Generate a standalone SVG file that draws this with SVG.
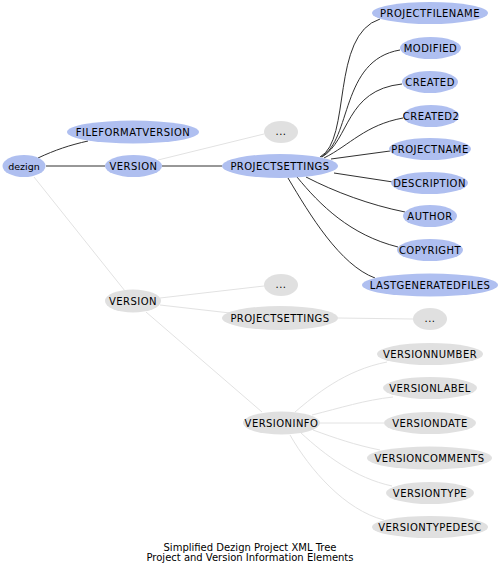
<svg xmlns="http://www.w3.org/2000/svg" width="500" height="564" viewBox="0 0 500 564">
<style>
.b ellipse{fill:#afbff0;stroke:none}
.g ellipse{fill:#e0e0e0;stroke:none}
text{font-family:"DejaVu Sans","Liberation Sans",sans-serif;font-size:10px;letter-spacing:0.45px;fill:#000;text-anchor:middle}
.d{fill:none;stroke:#303030;stroke-width:1}
.l{fill:none;stroke:#e2e2e2;stroke-width:1}
text.t{font-size:10px;letter-spacing:0}
text.s{font-size:9.5px;letter-spacing:0}
</style>
<rect width="500" height="564" fill="#fff"/>
<g id="connectors">
<path class="d" d="M38,158 C55,150 70,145 88,141"/>
<path class="d" d="M46,166 L105,166"/>
<path class="l" d="M34,177 L125,291"/>
<path class="l" d="M158,160 L264,134"/>
<path class="d" d="M162,166 L222,166"/>
<path class="d" d="M320,157 C352,140 330,35 380,19"/>
<path class="d" d="M321,157 C352,140 340,60 400,50"/>
<path class="d" d="M322,157 C350,140 345,90 402,84"/>
<path class="d" d="M324,158 C350,145 365,125 403,118"/>
<path class="d" d="M331,159 L390,151"/>
<path class="d" d="M334,173 L393,182"/>
<path class="d" d="M306,177 C335,192 370,205 405,212"/>
<path class="d" d="M297,177 C320,205 350,235 398,247"/>
<path class="d" d="M288,178 C310,215 340,265 375,278"/>
<path class="l" d="M160,298 L264,286"/>
<path class="l" d="M160,305 L230,313"/>
<path class="l" d="M146,312 L262,412"/>
<path class="l" d="M338,318 L413,319"/>
<path class="l" d="M295,412 C315,395 345,370 387,362"/>
<path class="l" d="M312,415 C340,408 365,400 393,397"/>
<path class="l" d="M320,423 L384,423"/>
<path class="l" d="M313,430 C335,438 355,445 380,450"/>
<path class="l" d="M301,433 C325,455 355,478 392,486"/>
<path class="l" d="M290,435 C310,470 345,510 384,520"/>
</g>
<g id="n-dezign" class="b"><ellipse cx="24" cy="166" rx="21.5" ry="11"/><text class="s" x="24" y="169.5">dezign</text></g>
<g id="n-fileformatversion" class="b"><ellipse cx="133" cy="132" rx="66" ry="11.5"/><text x="133" y="135.5">FILEFORMATVERSION</text></g>
<g id="n-version1" class="b"><ellipse cx="133.5" cy="166" rx="28.5" ry="11"/><text x="133.5" y="169.5">VERSION</text></g>
<g id="n-dots1" class="g"><ellipse cx="281" cy="132" rx="17" ry="11"/><text x="281" y="135">...</text></g>
<g id="n-projectsettings1" class="b"><ellipse cx="280" cy="166" rx="58" ry="12"/><text x="280" y="169.5">PROJECTSETTINGS</text></g>
<g id="n-projectfilename" class="b"><ellipse cx="430" cy="13" rx="58" ry="11"/><text x="430" y="16.5">PROJECTFILENAME</text></g>
<g id="n-modified" class="b"><ellipse cx="430.5" cy="48" rx="30.5" ry="11"/><text x="430.5" y="51.5">MODIFIED</text></g>
<g id="n-created" class="b"><ellipse cx="430" cy="82" rx="28" ry="11"/><text x="430" y="85.5">CREATED</text></g>
<g id="n-created2" class="b"><ellipse cx="431" cy="116" rx="28" ry="11"/><text x="431" y="119.5">CREATED2</text></g>
<g id="n-projectname" class="b"><ellipse cx="430" cy="149" rx="41" ry="11"/><text x="430" y="152.5">PROJECTNAME</text></g>
<g id="n-description" class="b"><ellipse cx="429.5" cy="183" rx="38.5" ry="11"/><text x="429.5" y="186.5">DESCRIPTION</text></g>
<g id="n-author" class="b"><ellipse cx="430" cy="216" rx="27" ry="11"/><text x="430" y="219.5">AUTHOR</text></g>
<g id="n-copyright" class="b"><ellipse cx="430" cy="250" rx="33" ry="11"/><text x="430" y="253.5">COPYRIGHT</text></g>
<g id="n-lastgeneratedfiles" class="b"><ellipse cx="430" cy="285" rx="68" ry="11.5"/><text x="430" y="288.5">LASTGENERATEDFILES</text></g>
<g id="n-version2" class="g"><ellipse cx="133" cy="301" rx="28" ry="11.5"/><text x="133" y="304.5">VERSION</text></g>
<g id="n-dots2" class="g"><ellipse cx="281" cy="285" rx="17" ry="11"/><text x="281" y="288">...</text></g>
<g id="n-projectsettings2" class="g"><ellipse cx="280" cy="318" rx="58" ry="12"/><text x="280" y="321.5">PROJECTSETTINGS</text></g>
<g id="n-dots3" class="g"><ellipse cx="430" cy="319" rx="17" ry="11"/><text x="430" y="322">...</text></g>
<g id="n-versioninfo" class="g"><ellipse cx="281.5" cy="423" rx="38.5" ry="11.5"/><text x="281.5" y="426.5">VERSIONINFO</text></g>
<g id="n-versionnumber" class="g"><ellipse cx="430" cy="354" rx="53" ry="11"/><text x="430" y="357.5">VERSIONNUMBER</text></g>
<g id="n-versionlabel" class="g"><ellipse cx="430" cy="388" rx="47" ry="11"/><text x="430" y="391.5">VERSIONLABEL</text></g>
<g id="n-versiondate" class="g"><ellipse cx="430" cy="423" rx="46" ry="11"/><text x="430" y="426.5">VERSIONDATE</text></g>
<g id="n-versioncomments" class="g"><ellipse cx="429.5" cy="458" rx="62.5" ry="11.5"/><text x="429.5" y="461.5">VERSIONCOMMENTS</text></g>
<g id="n-versiontype" class="g"><ellipse cx="430" cy="493" rx="44" ry="11"/><text x="430" y="496.5">VERSIONTYPE</text></g>
<g id="n-versiontypedesc" class="g"><ellipse cx="430" cy="527" rx="58" ry="11"/><text x="430" y="530.5">VERSIONTYPEDESC</text></g>
<g id="title"><text class="t" x="250" y="551">Simplified Dezign Project XML Tree</text><text class="t" x="250" y="561">Project and Version Information Elements</text></g>
</svg>
